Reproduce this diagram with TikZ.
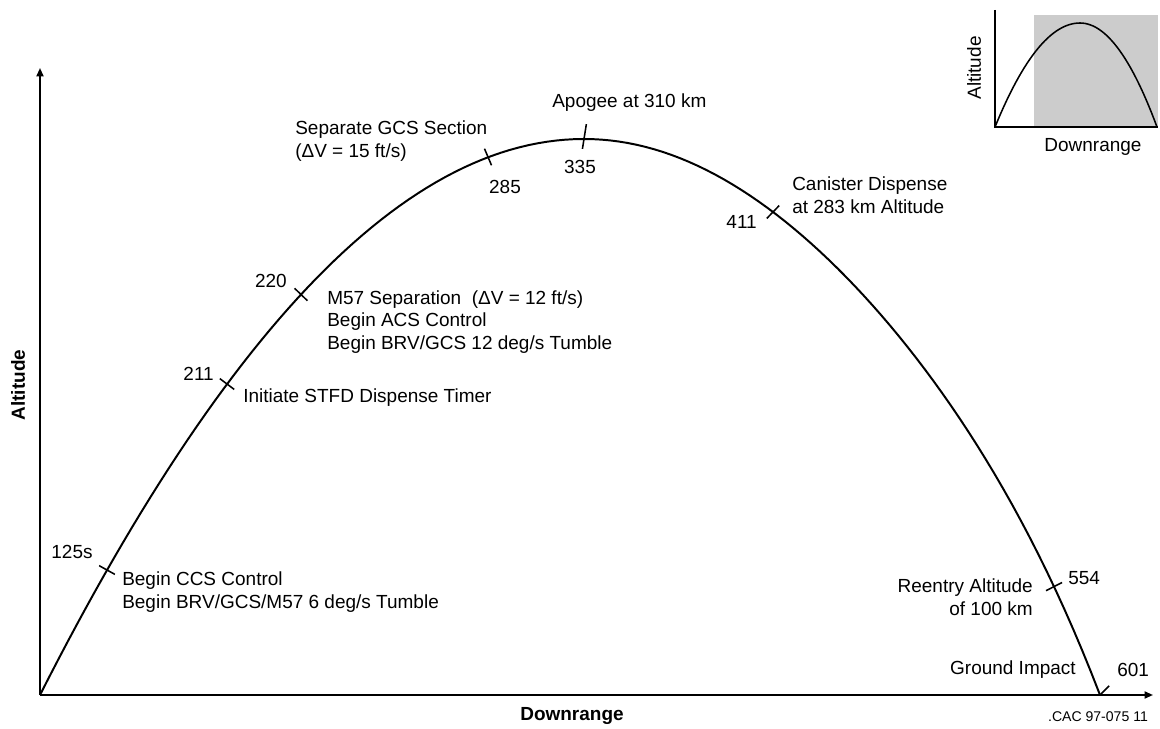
\documentclass[tikz,border=0pt]{standalone}
\usepackage{fontspec}
\setmainfont{Liberation Sans}
\usetikzlibrary{arrows.meta}
\begin{document}
\begin{tikzpicture}[x=0.025cm,y=-0.025cm]
  \tikzset{
    lbl/.style={font=\fontsize{13.5}{16}\selectfont,inner sep=0pt},
    evt/.style={lbl,align=left,anchor=west},
    axtitle/.style={font=\fontsize{13.5}{16}\selectfont\bfseries,inner sep=0pt},
    axis/.style={line width=1.3pt,-{Triangle[length=6pt,width=5pt]}},
    curve/.style={line width=1.4pt},
    tickmark/.style={line width=1.1pt},
    shade/.style={fill=black!20,draw=none}
  }
  \useasboundingbox (0,0) rectangle (1160,729);

  % Axes of the main trajectory plot.
  \coordinate (origin) at (40,695);
  \coordinate (ytop) at (40,68);
  \coordinate (xend) at (1153,695);
  \draw[axis] (origin) -- (ytop);
  \draw[axis] (origin) -- (xend);
  \node[axtitle,rotate=90] (alt) at (18,385) {Altitude};
  \node[axtitle] (down) at (572,716) {Downrange};
  \node[inner sep=0pt,font=\fontsize{10}{12}\selectfont] (ref) at (1098,717) {.CAC 97-075 11};

  % Trajectory: ascent and descent branches meeting at apogee.
  \draw[curve] plot[domain=1:0,samples=60,variable=\u]
      ({584-544*\u},{139+556*(\u*\u+0.07*\u*\u*(1-\u))})
    -- plot[domain=0:1,samples=60,variable=\u]
      ({584+516*\u},{139+556*(\u*\u-0.42*\u*\u*\u*\u*sqrt(\u)*(1-\u))});

  % Event ticks on the trajectory.
  \foreach \px/\py/\ang in {107/570/-29, 227/384/-37, 301/294.5/-44,
                            488/157/-67, 773/212/46, 1054/586.6/27} {
    \draw[tickmark,shift={(\px,\py)},rotate=\ang] (-9,0) -- (9,0);
  }
  \draw[tickmark,shift={(584,139)},rotate=81] (-10,0) -- (15,0);
  \draw[tickmark,shift={(1100,695)},rotate=45] (0,0) -- (13,0);

  % Times and events.
  \node[lbl] (t125) at (72,552) {125s};
  \node[evt] (ccs) at (122,592) {Begin CCS Control\\Begin BRV/GCS/M57 6 deg/s Tumble};
  \node[lbl,anchor=east] (t211) at (214,374) {211};
  \node[evt] (stfd) at (243,398) {Initiate STFD Dispense Timer};
  \node[lbl,anchor=east] (t220) at (287,281) {220};
  \node[evt] (msep) at (327,322) {M57 Separation~~(ΔV = 12 ft/s)\\Begin ACS Control\\Begin BRV/GCS 12 deg/s Tumble};
  \node[evt] (gcs) at (295,141) {Separate GCS Section\\(ΔV = 15 ft/s)};
  \node[lbl] (t285) at (505,187) {285};
  \node[evt] (apo) at (552,103) {Apogee at 310 km};
  \node[lbl] (t335) at (580,167) {335};
  \node[lbl,anchor=east] (t411) at (757,222) {411};
  \node[evt] (can) at (792,195) {Canister Dispense\\at 283 km Altitude};
  \node[lbl,align=right,anchor=east] (reent) at (1033,597) {Reentry Altitude\\of 100 km};
  \node[lbl,anchor=west] (t554) at (1068,578) {554};
  \node[lbl,anchor=east] (impact) at (1076,670) {Ground Impact};
  \node[lbl,anchor=west] (t601) at (1117,670) {601};

  % Inset: nominal trajectory sketch.
  \fill[shade] (1034,15) rectangle (1158,127);
  \draw[line width=1.1pt] (995,10) -- (995,127) -- (1158,127);
  \draw[line width=1.1pt] plot[domain=1:0,samples=30,variable=\u]
      ({1080-85*\u},{23+104*\u*\u})
    -- plot[domain=0:1,samples=30,variable=\u]
      ({1080+77*\u},{23+104*\u*\u});
  \node[lbl,rotate=90] (ialt) at (974,68) {Altitude};
  \node[lbl] (idown) at (1093,147) {Downrange};
\end{tikzpicture}
\end{document}
